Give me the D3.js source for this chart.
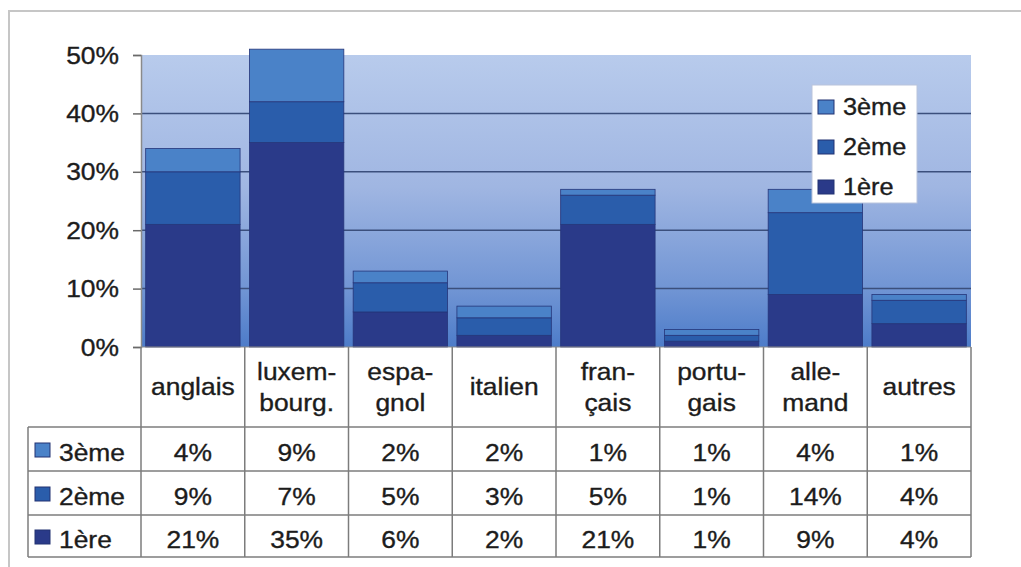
<!DOCTYPE html>
<html><head><meta charset="utf-8">
<script src="https://cdn.jsdelivr.net/npm/d3@7"></script>
<style>html,body{margin:0;padding:0;background:#fff;}svg{display:block;font-family:"Liberation Sans",Arial,sans-serif;}</style>
</head><body>
<svg id="c" width="1021" height="567"></svg>
<script>
const categories = ["anglais", "luxem-\nbourg.", "espa-\ngnol", "italien", "fran-\nçais", "portu-\ngais", "alle-\nmand", "autres"];
const seriesNames = ["1ère", "2ème", "3ème"];
const premiere = [21, 35, 6, 2, 21, 1, 9, 4];
const deuxieme = [9, 7, 5, 3, 5, 1, 14, 4];
const troisieme = [4, 9, 2, 2, 1, 1, 4, 1];
const seriesColors = ["#2a3a89", "#2a5dab", "#4a82c8"];
const yTicks = [0, 10, 20, 30, 40, 50];

const svg = d3.select("#c");
const X0 = 141, X1 = 971, Y0 = 347, Y1 = 55;
const x = d3.scaleBand().domain(d3.range(categories.length)).range([X0, X1]).paddingInner(0.09).paddingOuter(0.045);
const step = (X1 - X0) / categories.length;
const y = d3.scaleLinear().domain([0, 50]).range([Y0, Y1]);
const seriesValues = [premiere, deuxieme, troisieme];
const rows = categories.map((c, i) => ({i, s0: premiere[i], s1: deuxieme[i], s2: troisieme[i]}));
const stack = d3.stack().keys(["s0", "s1", "s2"])(rows);

function txt(g, px, py, s, anchor, size) {
  return g.append("text").attr("transform", `translate(${px},${py}) scale(1.1,1)`)
    .attr("text-anchor", anchor || "middle").attr("font-size", size || 24)
    .attr("fill", "#1c1c1c").attr("stroke", "#1c1c1c").attr("stroke-width", 0.35).text(s);
}

// outer frame
svg.append("rect").attr("x", 9).attr("y", 11).attr("width", 1030).attr("height", 600)
  .attr("fill", "none").attr("stroke", "#c6c6c6").attr("stroke-width", 2);

// gradient background
const defs = svg.append("defs");
const lg = defs.append("linearGradient").attr("id", "bg").attr("x1", 0).attr("y1", 0).attr("x2", 0).attr("y2", 1);
lg.append("stop").attr("offset", "0").attr("stop-color", "#b8cbec");
lg.append("stop").attr("offset", "0.45").attr("stop-color", "#a0b6e2");
lg.append("stop").attr("offset", "0.8").attr("stop-color", "#7195d4");
lg.append("stop").attr("offset", "1").attr("stop-color", "#4d7cc9");
svg.append("rect").attr("x", X0).attr("y", Y1).attr("width", X1 - X0).attr("height", Y0 - Y1).attr("fill", "url(#bg)");

// gridlines
svg.append("g").selectAll("line").data(yTicks.filter(t => t > 0 && t < 50)).join("line")
  .attr("x1", X0).attr("x2", X1).attr("y1", d => y(d)).attr("y2", d => y(d))
  .attr("stroke", "#3b4f7c").attr("stroke-width", 1.5);

// y axis
const ax = svg.append("g").attr("transform", `translate(${X0},0)`)
  .call(d3.axisLeft(y).tickValues(yTicks).tickSize(8).tickFormat(d => d + "%"));
ax.select(".domain").attr("stroke", "#8a8a8a").attr("stroke-width", 1.5);
ax.selectAll(".tick line").attr("stroke", "#6a6a6a").attr("stroke-width", 1.5);
ax.selectAll(".tick text").remove();
yTicks.forEach(t => txt(svg, 119, y(t) + 8.5, t + "%", "end", 24));

// bars
stack.forEach((layer, si) => {
  svg.append("g").selectAll("rect").data(layer).join("rect")
    .attr("x", d => x(d.data.i)).attr("width", x.bandwidth())
    .attr("y", d => y(d[1])).attr("height", d => y(d[0]) - y(d[1]))
    .attr("fill", seriesColors[si]).attr("stroke", "#26367a").attr("stroke-width", 0.8);
});

// table
const tg = svg.append("g");
const lineC = "#7c7c7c";
const rowY = [427, 471, 515, 557];
rowY.forEach(ry => tg.append("line").attr("x1", 28).attr("x2", X1).attr("y1", ry).attr("y2", ry).attr("stroke", lineC).attr("stroke-width", 1.5));
tg.append("line").attr("x1", X0).attr("x2", X1).attr("y1", Y0).attr("y2", Y0).attr("stroke", "#8a8a8a").attr("stroke-width", 1);
d3.range(categories.length + 1).forEach(k => {
  const vx = X0 + k * step;
  tg.append("line").attr("x1", vx).attr("x2", vx).attr("y1", Y0).attr("y2", 557).attr("stroke", lineC).attr("stroke-width", 1.5);
});
tg.append("line").attr("x1", 28).attr("x2", 28).attr("y1", 427).attr("y2", 557).attr("stroke", lineC).attr("stroke-width", 1.5);

// category labels
categories.forEach((c, i) => {
  const cx = X0 + (i + 0.5) * step;
  const lines = c.split("\n");
  if (lines.length === 1) txt(tg, cx, 395, lines[0]);
  else { txt(tg, cx, 380, lines[0]); txt(tg, cx, 411, lines[1]); }
});

// data rows (3ème top, 1ère bottom)
const tableOrder = [2, 1, 0];
const baselines = [461, 505, 548];
tableOrder.forEach((si, r) => {
  const cy = (rowY[r] + rowY[r + 1]) / 2;
  tg.append("rect").attr("x", 35).attr("y", cy - 6).attr("width", 15).attr("height", 14)
    .attr("fill", seriesColors[si]).attr("stroke", "#233272").attr("stroke-width", 1);
  txt(tg, 59, baselines[r], seriesNames[si], "start");
  seriesValues[si].forEach((v, i) => txt(tg, X0 + (i + 0.5) * step, baselines[r], v + "%"));
});

// legend
const lgG = svg.append("g");
lgG.append("rect").attr("x", 812).attr("y", 85).attr("width", 105).attr("height", 118)
  .attr("fill", "#fff").attr("stroke", "#b9c4dc").attr("stroke-width", 1);
const legBase = [115, 155, 195];
[2, 1, 0].forEach((si, r) => {
  lgG.append("rect").attr("x", 818).attr("y", legBase[r] - 15).attr("width", 16).attr("height", 14)
    .attr("fill", seriesColors[si]).attr("stroke", "#233272").attr("stroke-width", 1);
  txt(lgG, 843, legBase[r], seriesNames[si], "start", 23);
});
</script>
</body></html>
